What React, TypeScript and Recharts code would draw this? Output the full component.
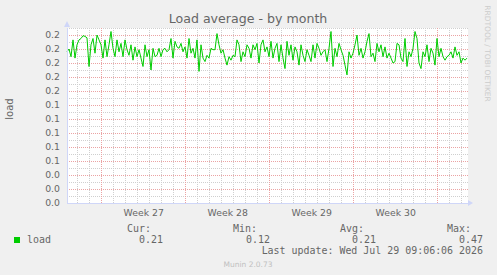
import React from 'react';
import { LineChart, Line, XAxis, YAxis, CartesianGrid, ReferenceLine, ReferenceDot } from 'recharts';

// load average samples, one every 4 hours, left to right
const loadValues: number[] = [
  0.216, 0.220, 0.209, 0.233, 0.207, 0.226, 0.233, 0.235, 0.239, 0.238, 0.236, 0.195, 0.226, 0.235, 0.214, 0.240, 0.233, 0.226, 0.207, 0.233, 0.209, 0.226, 0.245, 0.221, 0.209, 0.233, 0.216, 0.228, 0.209, 0.233, 0.219, 0.211, 0.226, 0.204, 0.223, 0.209, 0.219, 0.207, 0.195, 0.226, 0.209, 0.219,
  0.190, 0.221, 0.209, 0.211, 0.221, 0.209, 0.219, 0.221, 0.216, 0.219, 0.235, 0.207, 0.231, 0.223, 0.221, 0.228, 0.216, 0.223, 0.207, 0.235, 0.214, 0.221, 0.207, 0.233, 0.188, 0.226, 0.207, 0.202, 0.211, 0.207, 0.221, 0.219, 0.219, 0.242, 0.226, 0.214, 0.219, 0.207, 0.197, 0.209,
  0.204, 0.211, 0.209, 0.233, 0.226, 0.202, 0.216, 0.209, 0.226, 0.221, 0.207, 0.226, 0.219, 0.228, 0.200, 0.226, 0.233, 0.216, 0.223, 0.209, 0.231, 0.207, 0.221, 0.228, 0.202, 0.226, 0.207, 0.192, 0.231, 0.211, 0.226, 0.204, 0.223, 0.216, 0.197, 0.226, 0.211, 0.202, 0.219, 0.211,
  0.202, 0.226, 0.207, 0.228, 0.221, 0.211, 0.216, 0.219, 0.202, 0.221, 0.245, 0.195, 0.221, 0.209, 0.228, 0.219, 0.211, 0.197, 0.183, 0.216, 0.207, 0.214, 0.226, 0.240, 0.211, 0.221, 0.207, 0.216, 0.231, 0.242, 0.209, 0.214, 0.202, 0.228, 0.216, 0.226, 0.209, 0.223, 0.207, 0.214,
  0.207, 0.200, 0.202, 0.228, 0.226, 0.207, 0.202, 0.235, 0.195, 0.216, 0.209, 0.221, 0.245, 0.235, 0.200, 0.192, 0.216, 0.209, 0.226, 0.202, 0.221, 0.214, 0.197, 0.235, 0.209, 0.221, 0.209, 0.204, 0.209, 0.211, 0.216, 0.207, 0.223, 0.211, 0.216, 0.200, 0.207, 0.204, 0.207,
];
const SAMPLE_HOURS = 4;
const SPAN_HOURS = 802;

// time axis (hours from left edge)
const weekStartHours: number[] = [69.5, 237.5, 405.5, 573.5, 741.5];
const weekMidHours: number[] = [153.5, 321.5, 489.5, 657.5];
const weekLabels: string[] = ['Week 27', 'Week 28', 'Week 29', 'Week 30'];
const dayLineHours: number[] = [];
for (let h = 21.5; h <= SPAN_HOURS; h += 24) {
  if (!weekStartHours.includes(h)) dayLineHours.push(h);
}

// value axis
const yTicks: number[] = [0, 0.02, 0.04, 0.06, 0.08, 0.1, 0.12, 0.14, 0.16, 0.18, 0.2, 0.22, 0.24];
const yMinorLines: number[] = [0.01, 0.03, 0.05, 0.07, 0.09, 0.11, 0.13, 0.15, 0.17, 0.19, 0.21, 0.23, 0.25];

// legend
const seriesName = 'load';
const statLabels: string[] = ['Cur:', 'Min:', 'Avg:', 'Max:'];
const statValues: string[] = ['0.21', '0.12', '0.21', '0.47'];
const lastUpdate = 'Last update: Wed Jul 29 09:06:06 2026';

const data = loadValues.map((v, i) => ({ h: i * SAMPLE_HOURS, load: v }));

const GRID = '#cfcfcf';
const MGRID = '#eba3a3';
const AXIS = '#cfd6f8';
const FONT = '#666666';
const SANS = 'DejaVu Sans';
const MONO = 'DejaVu Sans Mono';

const statLabelX = [127, 233, 340, 447];
const statValueX = [139, 246, 352, 459];

export default function App() {
  return (
    <div style={{ position: 'absolute', left: 0, top: 0, width: 497, height: 275, background: '#f0f0f0', overflow: 'hidden' }}>
      <style>{`.munin line { shape-rendering: crispEdges; }`}</style>
      <div className="munin" style={{ position: 'absolute', left: 0, top: 0 }}>
        <LineChart width={497} height={275} data={data} margin={{ top: 28, right: 29, bottom: 52, left: 0 }}>
          <CartesianGrid horizontal={false} vertical={false} fill="#ffffff" fillOpacity={1} />
          {yMinorLines.map((v) => (
            <ReferenceLine key={'ym' + v} y={v} stroke={GRID} strokeDasharray="1 1" ifOverflow="visible" />
          ))}
          {yTicks.filter((v) => v > 0).map((v) => (
            <ReferenceLine key={'yM' + v} y={v} stroke={MGRID} strokeDasharray="1 1" />
          ))}
          {dayLineHours.map((h) => (
            <ReferenceLine key={'d' + h} x={h} stroke={GRID} strokeDasharray="1 1" />
          ))}
          {weekStartHours.map((h) => (
            <ReferenceLine key={'w' + h} x={h} stroke={MGRID} strokeDasharray="1 1" />
          ))}
          <XAxis
            dataKey="h"
            type="number"
            domain={[0, SPAN_HOURS]}
            ticks={weekMidHours}
            interval={0}
            tickFormatter={(v: number) => weekLabels[weekMidHours.indexOf(v)] ?? ''}
            axisLine={{ stroke: AXIS }}
            tickLine={false}
            tickSize={4}
            tickMargin={2}
            height={20}
            tick={{ fill: FONT, fontSize: 9.3, fontFamily: SANS }}
          />
          <YAxis
            type="number"
            domain={[0, 0.25]}
            ticks={yTicks}
            interval={0}
            tickFormatter={(v: number) => v.toFixed(1)}
            axisLine={{ stroke: AXIS }}
            tickLine={false}
            tickSize={5}
            tickMargin={2}
            width={67}
            tick={{ fill: FONT, fontSize: 9.3, fontFamily: SANS }}
          />
          <Line type="linear" dataKey="load" stroke="#00cc00" strokeWidth={1} dot={false} isAnimationActive={false} />
          <ReferenceDot
            x={0}
            y={0.25}
            ifOverflow="visible"
            shape={(p: any) => (
              <polygon points={`${p.cx},${p.cy - 7} ${p.cx - 3},${p.cy - 1} ${p.cx + 3},${p.cy - 1}`} fill={AXIS} />
            )}
          />
          <ReferenceDot
            x={SPAN_HOURS}
            y={0}
            ifOverflow="visible"
            shape={(p: any) => (
              <polygon points={`${p.cx + 5},${p.cy} ${p.cx},${p.cy - 3} ${p.cx},${p.cy + 3}`} fill={AXIS} />
            )}
          />
        </LineChart>
      </div>
      <svg width={497} height={275} style={{ position: 'absolute', left: 0, top: 0, pointerEvents: 'none' }}>
        <text x={248} y={23} textAnchor="middle" fontFamily={SANS} fontSize={12.6} fill={FONT}>
          Load average - by month
        </text>
        <text transform="translate(13,109) rotate(-90)" textAnchor="middle" fontFamily={SANS} fontSize={10} fill={FONT}>
          load
        </text>
        <text transform="translate(484.5,53.5) rotate(90)" textAnchor="middle" fontFamily={SANS} fontSize={7.5} fill="#cccccc">
          RRDTOOL / TOBI OETIKER
        </text>
        {statLabels.map((s, i) => (
          <text key={s} x={statLabelX[i]} y={232} fontFamily={MONO} fontSize={9.95} fill={FONT}>
            {s}
          </text>
        ))}
        <rect x={14} y={237} width={6} height={6} fill="#00cc00" />
        <text x={27} y={243} fontFamily={MONO} fontSize={9.95} fill={FONT}>
          {seriesName}
        </text>
        {statValues.map((s, i) => (
          <text key={'v' + i} x={statValueX[i]} y={243} fontFamily={MONO} fontSize={9.95} fill={FONT}>
            {s}
          </text>
        ))}
        <text x={483} y={254} textAnchor="end" fontFamily={MONO} fontSize={9.95} fill={FONT} style={{ whiteSpace: 'pre' }}>
          {lastUpdate}
        </text>
        <text x={248} y={267} textAnchor="middle" fontFamily={SANS} fontSize={7.5} fill="#c0c0c0">
          Munin 2.0.73
        </text>
      </svg>
    </div>
  );
}
